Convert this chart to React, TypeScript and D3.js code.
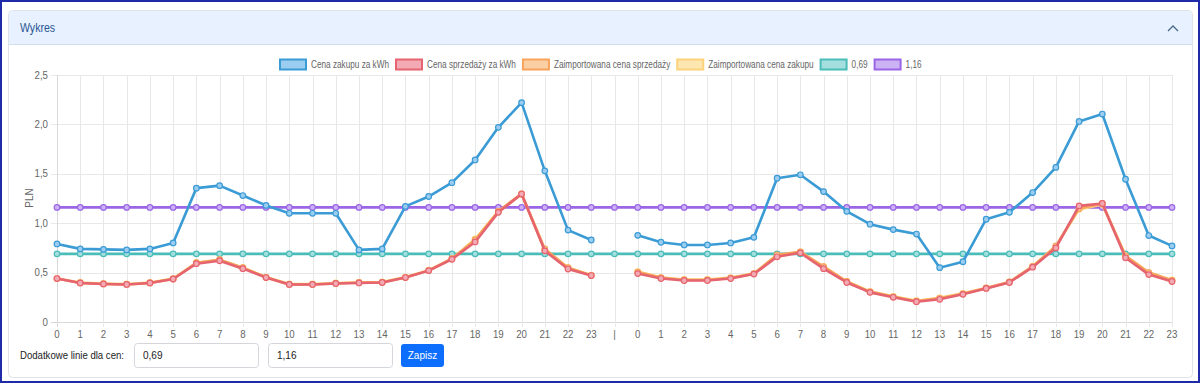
import React, { useEffect, useRef } from "react";
import * as d3 from "d3";

const CATEGORIES: string[] = [
  "0","1","2","3","4","5","6","7","8","9","10","11","12","13","14","15","16","17","18","19","20","21","22","23",
  "|",
  "0","1","2","3","4","5","6","7","8","9","10","11","12","13","14","15","16","17","18","19","20","21","22","23",
];

const PURCHASE: (number | null)[] = [
  0.79,0.74,0.735,0.73,0.74,0.80,1.355,1.38,1.28,1.18,1.10,1.10,1.10,0.73,0.74,1.17,1.27,1.41,1.64,1.97,2.22,1.53,0.93,0.83,
  null,
  0.877,0.807,0.78,0.78,0.80,0.857,1.455,1.49,1.32,1.12,0.99,0.935,0.89,0.55,0.61,1.04,1.11,1.31,1.565,2.03,2.105,1.445,0.875,0.77,
];

const SALE: (number | null)[] = [
  0.44,0.395,0.385,0.38,0.395,0.435,0.59,0.62,0.54,0.45,0.38,0.38,0.39,0.395,0.40,0.45,0.52,0.635,0.81,1.11,1.295,0.72,0.536,0.47,
  null,
  0.49,0.44,0.42,0.42,0.44,0.485,0.66,0.70,0.54,0.40,0.30,0.25,0.205,0.23,0.28,0.34,0.40,0.555,0.75,1.175,1.20,0.65,0.48,0.41,
];

const IMPORTED_SALE: (number | null)[] = [
  0.44,0.395,0.385,0.38,0.395,0.435,0.60,0.63,0.55,0.45,0.38,0.38,0.39,0.40,0.40,0.45,0.52,0.64,0.83,1.12,1.30,0.74,0.55,0.47,
  null,
  0.505,0.45,0.425,0.425,0.445,0.49,0.68,0.71,0.56,0.41,0.305,0.255,0.21,0.24,0.285,0.345,0.405,0.56,0.77,1.15,1.20,0.67,0.50,0.42,
];

const IMPORTED_PURCHASE: (number | null)[] = [
  0.44,0.40,0.39,0.385,0.40,0.44,0.60,0.63,0.55,0.455,0.385,0.385,0.395,0.40,0.405,0.455,0.525,0.64,0.84,1.12,1.29,0.73,0.55,0.475,
  null,
  0.51,0.45,0.43,0.43,0.45,0.49,0.67,0.71,0.56,0.41,0.31,0.26,0.215,0.245,0.29,0.345,0.405,0.565,0.765,1.14,1.19,0.67,0.50,0.425,
];

const LINE_LOW = 0.69;
const LINE_HIGH = 1.16;

const Y_TICKS: number[] = [0, 0.5, 1.0, 1.5, 2.0, 2.5];
const Y_TICK_LABELS: string[] = ["0", "0,5", "1,0", "1,5", "2,0", "2,5"];

const SERIES_NAMES: string[] = [
  "Cena zakupu za kWh",
  "Cena sprzedaży za kWh",
  "Zaimportowana cena sprzedaży",
  "Zaimportowana cena zakupu",
  "0,69",
  "1,16",
];

const COLORS: string[] = ["#3a9bd5", "#e5646f", "#f7a35c", "#fcd27a", "#4bbdb9", "#9b65e6"];
const FILLS: string[] = ["#9bcdf0", "#f3aab4", "#fbcfa4", "#fde6b0", "#a5dede", "#cbb2f5"];

const FONT = "'Liberation Sans', Arial, sans-serif";

export default function App() {
  const ref = useRef<SVGSVGElement | null>(null);

  useEffect(() => {
    const svg = d3.select(ref.current);
    svg.selectAll("*").remove();
    const W = 1200, H = 383;

    const squeeze = (t: any, k: number) => {
      const w = (t.node() as SVGTextElement).getComputedTextLength();
      t.attr("textLength", w * k).attr("lengthAdjust", "spacingAndGlyphs");
      return w * k;
    };

    svg.append("rect").attr("width", W).attr("height", H).attr("fill", "#fff");

    // Card
    svg.append("rect").attr("x", 8.5).attr("y", 10.5).attr("width", 1184).attr("height", 367)
      .attr("rx", 4).attr("fill", "#fff").attr("stroke", "#dfe2e6");
    // Header
    svg.append("path")
      .attr("d", "M9,44 L9,15 Q9,11 13,11 L1188,11 Q1192,11 1192,15 L1192,44 Z")
      .attr("fill", "#e7f1ff");
    svg.append("line").attr("x1", 9).attr("x2", 1192).attr("y1", 44.5).attr("y2", 44.5).attr("stroke", "#d3dcea");
    const hdr = svg.append("text").attr("x", 20).attr("y", 32).text("Wykres")
      .attr("font-family", FONT).attr("font-size", 12).attr("fill", "#2b5694");
    squeeze(hdr, 0.88);
    svg.append("polyline").attr("points", "1168,31 1173,26 1178,31")
      .attr("fill", "none").attr("stroke", "#4a6688").attr("stroke-width", 1.3);

    // Scales
    const idx = CATEGORIES.map((_, i) => i);
    const x = d3.scalePoint<number>().domain(idx).range([57, 1172]);
    const y = d3.scaleLinear().domain([0, 2.5]).range([322, 75]);

    const grid = svg.append("g");
    Y_TICKS.forEach((t, i) => {
      grid.append("line").attr("x1", 51).attr("x2", 1172)
        .attr("y1", Math.round(y(t)) + 0.5).attr("y2", Math.round(y(t)) + 0.5)
        .attr("stroke", t === 0 ? "#d9d9d9" : "#e8e8e8");
      const tl = grid.append("text").attr("x", 48).attr("y", y(t) + 3.5).attr("text-anchor", "end")
        .attr("font-family", FONT).attr("font-size", 11).attr("fill", "#666").text(Y_TICK_LABELS[i]);
      squeeze(tl, 0.88);
    });
    idx.forEach((i) => {
      const xx = Math.round(x(i)!) + 0.5;
      grid.append("line").attr("x1", xx).attr("x2", xx).attr("y1", 75).attr("y2", 327)
        .attr("stroke", i === 0 ? "#d9d9d9" : "#e8e8e8");
      const tl = grid.append("text").attr("x", x(i)!).attr("y", 338).attr("text-anchor", "middle")
        .attr("font-family", FONT).attr("font-size", 11).attr("fill", "#666").text(CATEGORIES[i]);
      squeeze(tl, 0.88);
    });

    // Y title
    const yt = svg.append("text").attr("transform", "translate(33,198) rotate(-90)").attr("text-anchor", "middle")
      .attr("font-family", FONT).attr("font-size", 11).attr("fill", "#666").text("PLN");
    squeeze(yt, 0.9);

    const datasets: (number | null)[][] = [
      PURCHASE,
      SALE,
      IMPORTED_SALE,
      IMPORTED_PURCHASE,
      CATEGORIES.map(() => LINE_LOW),
      CATEGORIES.map(() => LINE_HIGH),
    ];

    const line = d3.line<[number, number | null]>()
      .defined((d) => d[1] !== null)
      .x((d) => x(d[0])!)
      .y((d) => y(d[1] as number));

    const plot = svg.append("g");
    for (let s = datasets.length - 1; s >= 0; s--) {
      const pts: [number, number | null][] = datasets[s].map((v, i) => [i, v]);
      plot.append("path").datum(pts).attr("d", line as any)
        .attr("fill", "none").attr("stroke", COLORS[s]).attr("stroke-width", 2.6)
        .attr("stroke-linejoin", "round");
      plot.selectAll(null).data(pts.filter((d) => d[1] !== null)).enter().append("circle")
        .attr("cx", (d) => x(d[0])!).attr("cy", (d) => y(d[1] as number)).attr("r", 2.8)
        .attr("fill", FILLS[s]).attr("stroke", COLORS[s]).attr("stroke-width", 1.2);
    }

    // Legend
    const leg = svg.append("g");
    let cx = 0;
    let k = 1;
    SERIES_NAMES.forEach((name, s) => {
      const g = leg.append("g").attr("transform", `translate(${cx},0)`);
      g.append("rect").attr("x", 1).attr("y", 59.5).attr("width", 26).attr("height", 10)
        .attr("fill", FILLS[s]).attr("stroke", COLORS[s]).attr("stroke-width", 2);
      const t = g.append("text").attr("x", 32).attr("y", 68).attr("font-family", FONT)
        .attr("font-size", 11).attr("fill", "#666").text(name);
      if (s === 0) {
        const w0 = (t.node() as SVGTextElement).getComputedTextLength();
        k = 78 / w0;
      }
      const tw = squeeze(t, k);
      cx += 32 + tw + 6;
    });
    const total = cx - 6;
    leg.attr("transform", `translate(${Math.round(600 - total / 2)},0)`);

    // Bottom controls
    const lbl = svg.append("text").attr("x", 20).attr("y", 359).attr("font-family", FONT).attr("font-size", 11)
      .attr("fill", "#222").text("Dodatkowe linie dla cen:");
    const lw = (lbl.node() as SVGTextElement).getComputedTextLength();
    lbl.attr("textLength", 104).attr("lengthAdjust", "spacingAndGlyphs");
    const kb = 104 / lw;
    [[134, "0,69"], [268, "1,16"]].forEach(([xx, v]) => {
      svg.append("rect").attr("x", (xx as number) + 0.5).attr("y", 343.5).attr("width", 124).attr("height", 24)
        .attr("rx", 3).attr("fill", "#fff").attr("stroke", "#d3d7db");
      const tv = svg.append("text").attr("x", (xx as number) + 9).attr("y", 359).attr("font-family", FONT)
        .attr("font-size", 11.5).attr("fill", "#222").text(v as string);
      squeeze(tv, kb);
    });
    svg.append("rect").attr("x", 401).attr("y", 344).attr("width", 43).attr("height", 23).attr("rx", 3)
      .attr("fill", "#0d6efd");
    const bt = svg.append("text").attr("x", 422.5).attr("y", 359).attr("text-anchor", "middle").attr("font-family", FONT)
      .attr("font-size", 11.5).attr("fill", "#fff").text("Zapisz");
    squeeze(bt, kb);

    // outer frame
    svg.append("rect").attr("x", 1).attr("y", 1).attr("width", W - 2).attr("height", H - 2)
      .attr("fill", "none").attr("stroke", "#1f2aa8").attr("stroke-width", 2);
  }, []);

  return (
    <svg
      ref={ref}
      width={1200}
      height={383}
      style={{ position: "absolute", left: 0, top: 0, display: "block" }}
    />
  );
}
